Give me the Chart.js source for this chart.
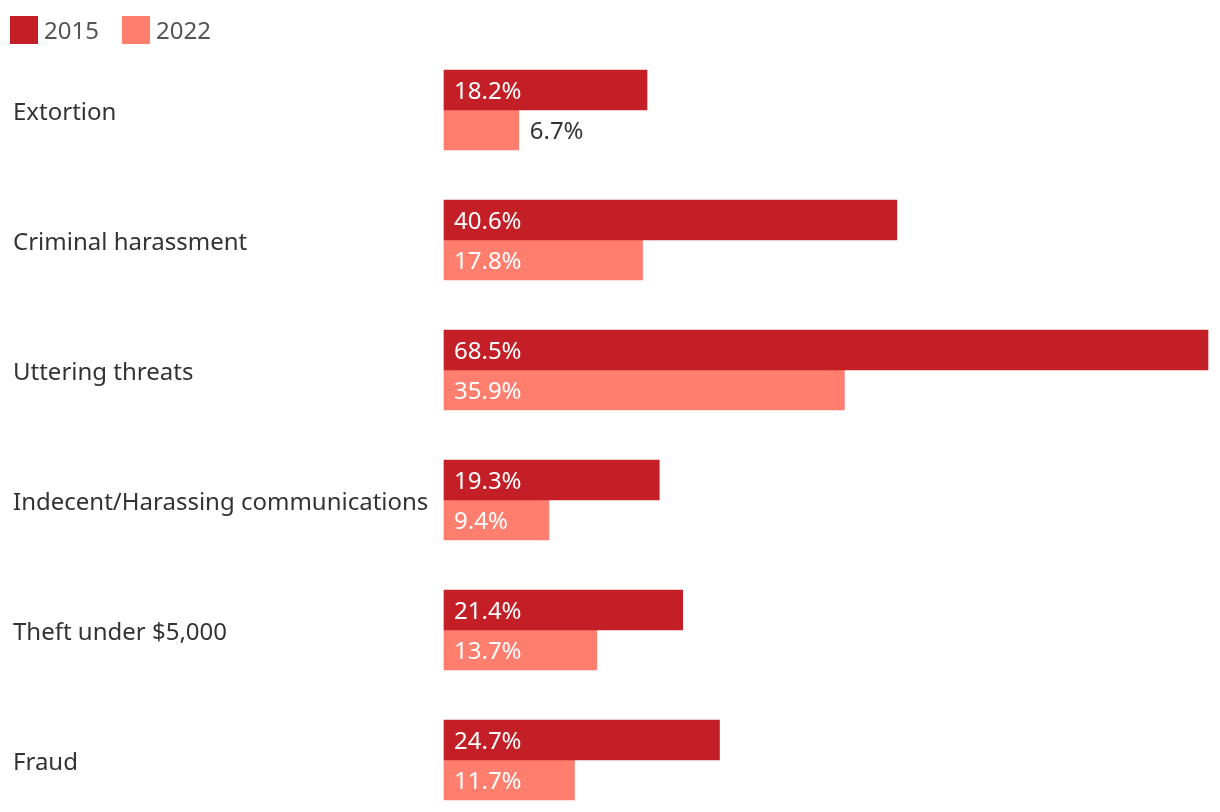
<!DOCTYPE html>
<html>
<head>
<meta charset="utf-8">
<script src="https://cdn.jsdelivr.net/npm/chart.js@4/dist/chart.umd.min.js"></script>
<style>
  html, body { margin: 0; padding: 0; background: #fff; overflow: hidden; }
  #wrap { width: 1220px; height: 812px; }
</style>
</head>
<body>
<div id="wrap"><canvas id="crimeChart"></canvas></div>
<script>
const categories = [
  'Extortion',
  'Criminal harassment',
  'Uttering threats',
  'Indecent/Harassing communications',
  'Theft under $5,000',
  'Fraud'
];
const values2015 = [18.2, 40.6, 68.5, 19.3, 21.4, 24.7];
const values2022 = [6.7, 17.8, 35.9, 9.4, 13.7, 11.7];
const seriesLabels = ['2015', '2022'];
const seriesColors = ['#c41f27', '#ff7e6e'];

const FONT = '"Noto Sans", sans-serif';

// legend drawn by hand so the boxes sit where the original puts them
const simpleLegend = {
  id: 'simpleLegend',
  afterDraw(chart) {
    const ctx = chart.ctx;
    ctx.save();
    ctx.font = `24px ${FONT}`;
    ctx.textBaseline = 'middle';
    ctx.textAlign = 'left';
    let x = 10;
    chart.data.datasets.forEach(ds => {
      ctx.fillStyle = ds.backgroundColor;
      ctx.fillRect(x, 16, 28, 28);
      ctx.fillStyle = '#555';
      ctx.fillText(ds.label, x + 34, 32);
      x += 112;
    });
    ctx.restore();
  }
};

// value labels: inside the bar in white, or just past it when it doesn't fit
const barValues = {
  id: 'barValues',
  afterDatasetsDraw(chart) {
    const ctx = chart.ctx;
    ctx.save();
    ctx.font = `24px ${FONT}`;
    ctx.textBaseline = 'middle';
    ctx.textAlign = 'left';
    chart.data.datasets.forEach((ds, i) => {
      chart.getDatasetMeta(i).data.forEach((bar, j) => {
        const txt = ds.data[j].toFixed(1) + '%';
        const w = ctx.measureText(txt).width;
        const barLen = bar.x - bar.base;
        if (w + 40 <= barLen) {
          ctx.fillStyle = '#fff';
          ctx.fillText(txt, bar.base + 10, bar.y + 2);
        } else {
          ctx.fillStyle = '#333';
          ctx.fillText(txt, bar.x + 11, bar.y + 2);
        }
      });
    });
    ctx.restore();
  }
};

new Chart(document.getElementById('crimeChart'), {
  type: 'bar',
  data: {
    labels: categories,
    datasets: [
      {
        label: seriesLabels[0],
        data: values2015,
        backgroundColor: seriesColors[0],
        barThickness: 40,
        clip: false
      },
      {
        label: seriesLabels[1],
        data: values2022,
        backgroundColor: seriesColors[1],
        barThickness: 40,
        clip: false
      }
    ]
  },
  options: {
    indexAxis: 'y',
    responsive: true,
    maintainAspectRatio: false,
    animation: false,
    layout: {
      padding: { top: 110, bottom: 52, left: 13, right: 12 }
    },
    plugins: {
      legend: { display: false },
      tooltip: { enabled: false }
    },
    scales: {
      x: {
        display: false,
        min: 0,
        max: 68.5
      },
      y: {
        offset: false,
        grid: { display: false },
        border: { display: false },
        afterFit: scale => { scale.width = 431; },
        ticks: {
          crossAlign: 'far',
          labelOffset: 3,
          color: '#333',
          font: { family: FONT, size: 24 }
        }
      }
    }
  },
  plugins: [simpleLegend, barValues]
});
</script>
</body>
</html>
